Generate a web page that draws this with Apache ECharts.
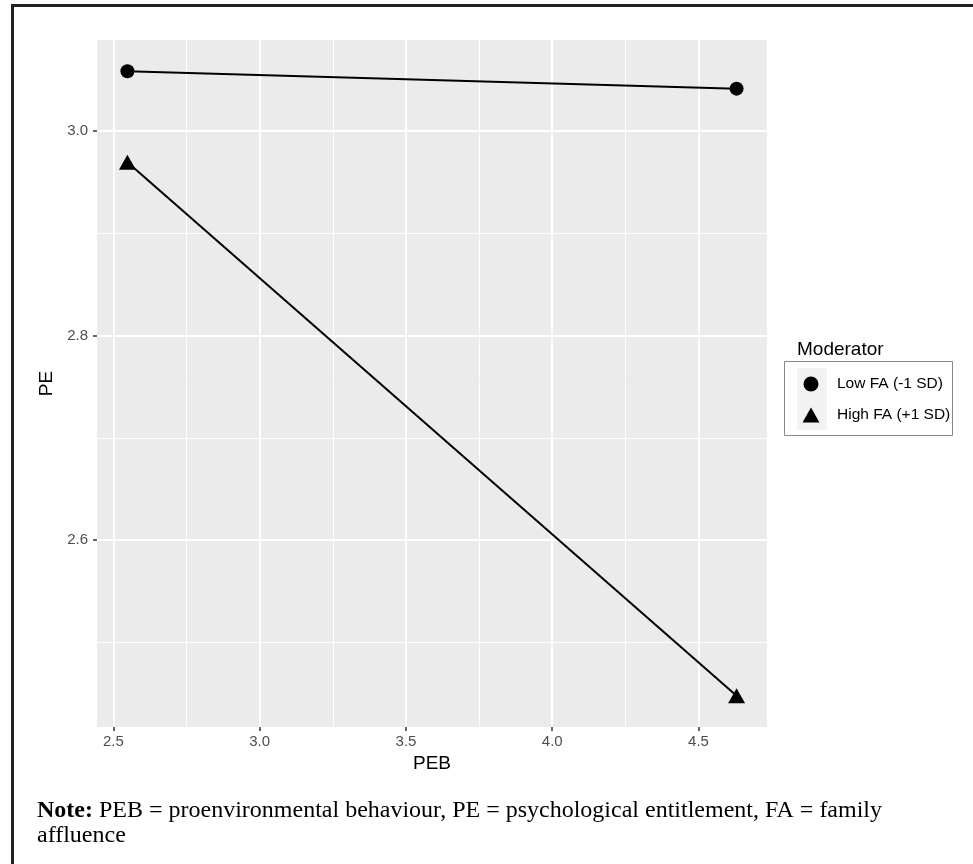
<!DOCTYPE html>
<html>
<head>
<meta charset="utf-8">
<script src="https://cdn.jsdelivr.net/npm/echarts@6/dist/echarts.min.js"></script>
<style>
html,body{margin:0;padding:0;background:#fff;}
#c{width:973px;height:864px;}
</style>
</head>
<body>
<div id="c"></div>
<script>
// ---- data ----
var xValues = [2.548, 4.630];          // PEB
var lowFA = [3.058, 3.041];            // Low FA (-1 SD)
var highFA = [2.969, 2.448];           // High FA (+1 SD)
var seriesNames = ['Low FA (-1 SD)', 'High FA (+1 SD)'];
var xTicks = [2.5, 3.0, 3.5, 4.0, 4.5];
var xMinor = [2.75, 3.25, 3.75, 4.25];
var yTicks = [2.6, 2.8, 3.0];
var yMinor = [2.5, 2.7, 2.9];
var xRange = [2.444, 4.734];
var yRange = [2.4175, 3.0885];

function pairs(xs, ys) { return xs.map(function (x, i) { return [x, ys[i]]; }); }
function fmt(v) { return Number(v).toFixed(1); }

var SANS = "'Liberation Sans', Arial, Helvetica, sans-serif";
var SERIF = "'Liberation Serif', 'Times New Roman', serif";

var gridLines = [];
xTicks.forEach(function (v) { gridLines.push({ xAxis: v, lineStyle: { width: 1.8 } }); });
xMinor.forEach(function (v) { gridLines.push({ xAxis: v, lineStyle: { width: 0.9 } }); });
yTicks.forEach(function (v) { gridLines.push({ yAxis: v, lineStyle: { width: 1.8 } }); });
yMinor.forEach(function (v) { gridLines.push({ yAxis: v, lineStyle: { width: 0.9 } }); });

var chart = echarts.init(document.getElementById('c'), null, { renderer: 'canvas' });
chart.setOption({
  animation: false,
  backgroundColor: '#ffffff',
  grid: {
    left: 97, top: 40, right: 206, bottom: 137,
    show: true, backgroundColor: '#EBEBEB', borderWidth: 0
  },
  xAxis: {
    type: 'value', min: xRange[0], max: xRange[1],
    name: 'PEB', nameLocation: 'middle', nameGap: 26,
    nameTextStyle: { fontFamily: SANS, fontSize: 19, color: '#000' },
    axisLine: { show: false },
    axisTick: { show: true, length: 4, customValues: xTicks, lineStyle: { color: '#333', width: 1.5 } },
    axisLabel: { customValues: xTicks, formatter: fmt, margin: 7, fontFamily: SANS, fontSize: 15, color: '#4D4D4D' },
    splitLine: { show: false }
  },
  yAxis: {
    type: 'value', min: yRange[0], max: yRange[1],
    name: 'PE', nameLocation: 'middle', nameGap: 29, nameRotate: 90,
    nameTextStyle: { fontFamily: SANS, fontSize: 19, color: '#000' },
    axisLine: { show: false },
    axisTick: { show: true, length: 4, customValues: yTicks, lineStyle: { color: '#333', width: 1.5 } },
    axisLabel: { customValues: yTicks, formatter: fmt, margin: 9, fontFamily: SANS, fontSize: 15, color: '#4D4D4D' },
    splitLine: { show: false }
  },
  legend: {
    orient: 'vertical', left: 802.5, top: 376, padding: 0,
    itemWidth: 17, itemHeight: 15, itemGap: 15,
    data: [{ name: seriesNames[0], icon: 'circle' }, { name: seriesNames[1], icon: 'triangle' }],
    textStyle: { fontFamily: SANS, fontSize: 15.5, color: '#000', padding: [0, 0, 0, 12.5] },
    itemStyle: { color: '#000' }
  },
  graphic: [
    { type: 'rect', z: -1, shape: { x: 784.5, y: 361.5, width: 168, height: 74 }, style: { fill: '#fff', stroke: '#888', lineWidth: 1 } },
    { type: 'rect', z: 0, shape: { x: 797, y: 368, width: 30, height: 62 }, style: { fill: '#F2F2F2' } },
    { type: 'text', x: 797, y: 350, style: { text: 'Moderator', fontFamily: SANS, fontSize: 19, fill: '#000', verticalAlign: 'middle' } },
    { type: 'polyline', shape: { points: [[12.5, 864], [12.5, 5.5], [973, 5.5]] }, style: { stroke: '#222', lineWidth: 3, fill: null } },
    { type: 'text', x: 37, y: 798, style: {
        text: '{b|Note:} PEB = proenvironmental behaviour, PE = psychological entitlement, FA = family\naffluence',
        fontFamily: SERIF, fontSize: 24, lineHeight: 25, fill: '#000', verticalAlign: 'top',
        rich: { b: { fontFamily: SERIF, fontSize: 24, fontWeight: 'bold', lineHeight: 25, fill: '#000' } }
    } }
  ],
  series: [
    {
      name: '_grid', type: 'line', data: [], z: 1, silent: true,
      markLine: {
        silent: true, symbol: ['none', 'none'], label: { show: false }, z: 1, animation: false,
        lineStyle: { color: '#ffffff', type: 'solid' },
        emphasis: { disabled: true },
        data: gridLines
      }
    },
    {
      name: seriesNames[0], type: 'line', data: pairs(xValues, lowFA), z: 3,
      symbol: 'circle', symbolSize: 14, showAllSymbol: true,
      lineStyle: { color: '#000', width: 2 }, itemStyle: { color: '#000' }
    },
    {
      name: seriesNames[1], type: 'line', data: pairs(xValues, highFA), z: 3,
      symbol: 'triangle', symbolSize: [17, 15], showAllSymbol: true,
      lineStyle: { color: '#000', width: 2 }, itemStyle: { color: '#000' }
    }
  ]
});
</script>
</body>
</html>
